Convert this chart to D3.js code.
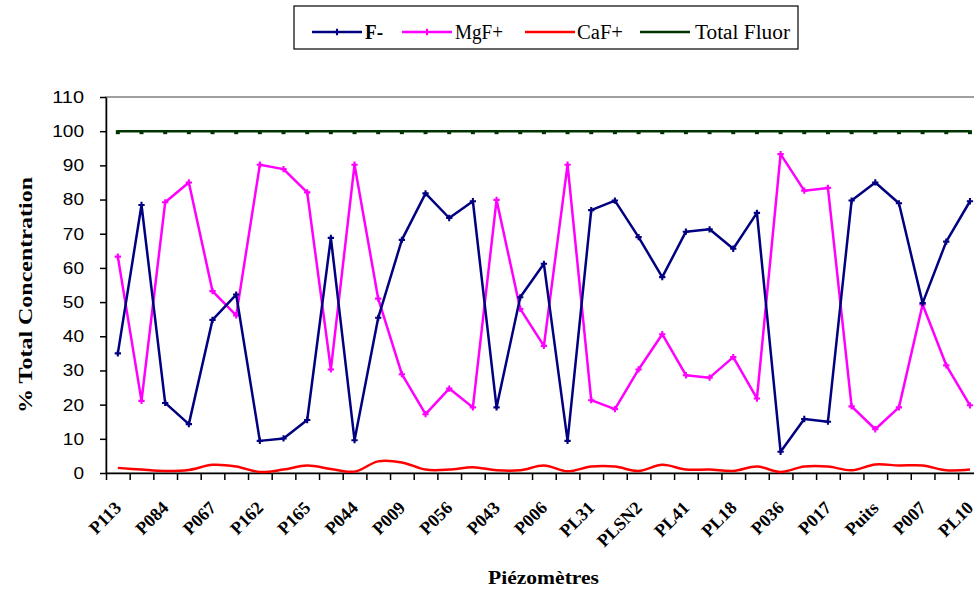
<!DOCTYPE html>
<html><head><meta charset="utf-8">
<script src="https://cdn.jsdelivr.net/npm/d3@7/dist/d3.min.js"></script>
<style>html,body{margin:0;padding:0;background:#fff;overflow:hidden}</style>
</head><body>
<svg id="chart" width="974" height="590"></svg>
<script>
// ---- data ----
const tickLabels = ["P113","P084","P067","P162","P165","P044","P009","P056","P043","P006","PL31","PLSN2","PL41","PL18","P036","P017","Puits","P007","PL10"];
const seriesNames = ["F-","MgF+","CaF+","Total Fluor"];
const fMinus = [35,78.4,20.5,14.3,44.8,52.2,9.4,10.1,15.5,68.8,9.6,45.4,68.2,81.8,74.6,79.5,19.2,51.4,61.2,9.4,76.9,79.7,69,57.3,70.6,71.3,65.6,76.1,6.2,15.8,15,79.7,85,78.9,49.7,67.7,79.5];
const mgF = [63.3,21.1,79.2,85,53.2,46.1,90.2,88.9,82.1,30.3,90.2,51,28.9,17.2,24.7,19.2,79.9,48,37.2,90.2,21.3,18.7,30.3,40.6,28.6,27.9,33.9,21.8,93.3,82.6,83.4,19.5,12.8,19.2,49.3,31.5,19.8];
const caF = [1.5,1.0,0.6,0.9,2.4,1.9,0.3,1.0,2.2,1.2,0.4,3.4,3.1,1.0,1.0,1.7,0.8,0.8,2.2,0.5,1.9,1.9,0.6,2.4,1.0,1.0,0.6,1.9,0.3,1.9,1.9,0.8,2.5,2.2,2.2,0.8,1.0];
const totalFluor = [100,100,100,100,100,100,100,100,100,100,100,100,100,100,100,100,100,100,100,100,100,100,100,100,100,100,100,100,100,100,100,100,100,100,100,100,100];
const yTicks = [0,10,20,30,40,50,60,70,80,90,100,110];

// ---- layout ----
const svg = d3.select("#chart");
const L = 106, T = 97, B = 473, n = fMinus.length, step = 23.67;
const R = L + n * step;
const x = d3.scaleLinear().domain([-0.5, n - 0.5]).range([L, R]);
const y = d3.scaleLinear().domain([0, 110]).range([B, T]);

svg.append("rect").attr("width",974).attr("height",590).attr("fill","#fff");
// plot border
svg.append("rect").attr("x",L).attr("y",T).attr("width",R-L).attr("height",B-T)
  .attr("fill","none").attr("stroke","#808080").attr("stroke-width",1.5);

// y axis
const yAxis = svg.append("g").attr("transform",`translate(${L},0)`)
  .call(d3.axisLeft(y).tickValues(yTicks).tickSize(6).tickPadding(16).tickSizeOuter(0));
yAxis.selectAll("text").attr("font-family","'Liberation Sans',Arial,sans-serif").attr("font-size",17).attr("fill","#000")
  .attr("textLength", d => String(d).length * 10.6).attr("lengthAdjust","spacingAndGlyphs");
yAxis.selectAll("line,path").attr("stroke","#000").attr("stroke-width",1.5);

// x axis boundary ticks
const bounds = d3.range(n + 1).map(i => i - 0.5);
const xAxis = svg.append("g").attr("transform",`translate(0,${B})`)
  .call(d3.axisBottom(x).tickValues(bounds).tickSize(7).tickFormat("").tickSizeOuter(0));
xAxis.selectAll("line,path").attr("stroke","#000").attr("stroke-width",1.5);

// x labels every other category
const labelIdx = tickLabels.map((_, k) => k * 2);
const xLab = svg.append("g").attr("transform",`translate(0,${B})`)
  .call(d3.axisBottom(x).tickValues(labelIdx).tickSize(0).tickFormat((d) => tickLabels[d/2]));
xLab.select("path").remove();
xLab.selectAll("text")
  .attr("font-family","'Liberation Serif','Times New Roman',serif").attr("font-weight","bold")
  .attr("font-size",18).attr("fill","#000")
  .attr("text-anchor","end").attr("y",0).attr("dy",0)
  .attr("transform","translate(4,36) rotate(-45)");

// series
const series = [
  {name:"Total Fluor", data: totalFluor, color:"#003300", curve:d3.curveLinear, marker:"square"},
  {name:"CaF+", data: caF, color:"#ff0000", curve:d3.curveCatmullRom, marker:null},
  {name:"MgF+", data: mgF, color:"#ff00ff", curve:d3.curveLinear, marker:"cross"},
  {name:"F-", data: fMinus, color:"#000080", curve:d3.curveLinear, marker:"cross"}
];
series.forEach(s => {
  const line = d3.line().x((d,i) => x(i)).y(d => y(d)).curve(s.curve);
  svg.append("path").datum(s.data).attr("d", line)
    .attr("fill","none").attr("stroke", s.color).attr("stroke-width", 2.5).attr("stroke-linejoin","round");
  if (s.marker === "square") {
    svg.append("g").selectAll("rect").data(s.data).join("rect")
      .attr("x",(d,i)=>x(i)-2).attr("y",d=>y(d)-1).attr("width",4).attr("height",4).attr("fill",s.color);
  } else if (s.marker === "cross") {
    svg.append("g").selectAll("path").data(s.data).join("path")
      .attr("transform",(d,i)=>`translate(${x(i)},${y(d)})`)
      .attr("d", d3.symbol(d3.symbolCross, 22)()).attr("fill", s.color);
  }
});

// legend
const lg = svg.append("g");
lg.append("rect").attr("x",294).attr("y",6).attr("width",504).attr("height",43)
  .attr("fill","#fff").attr("stroke","#000").attr("stroke-width",1.2);
const legendItems = [
  {name: seriesNames[0], color:"#000080", x0:312, tx:365, bold:true, marker:true, len:18},
  {name: seriesNames[1], color:"#ff00ff", x0:402, tx:455, bold:false, marker:true, len:48},
  {name: seriesNames[2], color:"#ff0000", x0:525, tx:577, bold:false, marker:false, len:46},
  {name: seriesNames[3], color:"#003300", x0:640, tx:695, bold:false, marker:false, len:95}
];
legendItems.forEach(it => {
  lg.append("line").attr("x1",it.x0).attr("x2",it.x0+50).attr("y1",32).attr("y2",32)
    .attr("stroke",it.color).attr("stroke-width",2.5);
  if (it.marker) lg.append("path").attr("transform",`translate(${it.x0+25},32)`)
    .attr("d", d3.symbol(d3.symbolCross, 22)()).attr("fill", it.color);
  lg.append("text").attr("x",it.tx).attr("y",38.5).text(it.name)
    .attr("font-family","'Liberation Serif','Times New Roman',serif").attr("font-size",20)
    .attr("font-weight", it.bold ? "bold" : "normal").attr("fill","#000")
    .attr("textLength", it.len).attr("lengthAdjust","spacingAndGlyphs");
});

// axis titles
svg.append("text").attr("transform","translate(32,295) rotate(-90)").attr("text-anchor","middle")
  .attr("font-family","'Liberation Serif','Times New Roman',serif").attr("font-weight","bold")
  .attr("font-size",18).attr("textLength",236).attr("lengthAdjust","spacingAndGlyphs")
  .text("% Total Concentration");
svg.append("text").attr("x",543.5).attr("y",584).attr("text-anchor","middle")
  .attr("font-family","'Liberation Serif','Times New Roman',serif").attr("font-weight","bold")
  .attr("font-size",19).attr("textLength",111).attr("lengthAdjust","spacingAndGlyphs")
  .text("Piézomètres");
</script>
</body></html>
